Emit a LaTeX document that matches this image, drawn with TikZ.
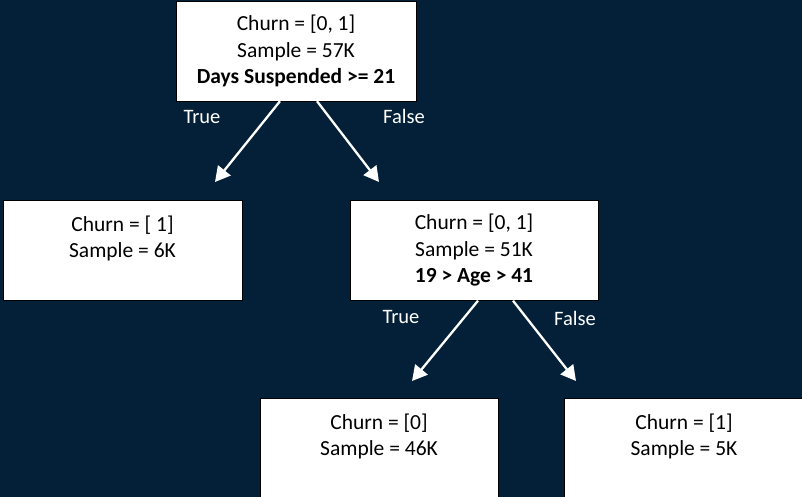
\documentclass[tikz,border=0pt]{standalone}
\usepackage{fontspec}
\setmainfont{Carlito}
\usetikzlibrary{arrows.meta}
\definecolor{navy}{RGB}{3,32,56}
\tikzset{
  treebox/.style={draw=black, fill=white, thin, minimum width=240pt, minimum height=100pt,
    align=center, font=\fontsize{21.5}{26.5}\selectfont, inner sep=0pt},
  branch/.style={draw=white, line width=2.3pt, -{Triangle[length=15pt,width=16pt]}},
  branchlabel/.style={text=white, font=\fontsize{20.5}{24}\selectfont, inner sep=0pt}}

\begin{document}
\begin{tikzpicture}[x=1pt,y=-1pt]
        \fill[navy] (0,0) rectangle (802,497);
        \useasboundingbox (0,0) rectangle (802,497);

        \node[treebox] (root) at (296,51) {Churn = [0, 1]\\Sample = 57K\\\textbf{Days Suspended >= 21}};
        \node[treebox, minimum width=239pt] (left) at (122.5,250) {Churn = [ 1]\\Sample = 6K\\~};
        \node[treebox, minimum width=248pt] (mid) at (474,250.5) {Churn = [0, 1]\\Sample = 51K\\\textbf{19 > Age > 41}};
        \node[treebox, minimum width=238pt] (midleft) at (379,448) {Churn = [0]\\Sample = 46K\\~};
        \node[treebox] (midright) at (684,448) {Churn = [1]\\Sample = 5K\\~};

        % arrow tips stop short of the child boxes
        \coordinate (rootT) at (215,182);
        \coordinate (rootF) at (379,182);
        \coordinate (midT) at (412,381);
        \coordinate (midF) at (576,381);

        \draw[branch] ([xshift=-16pt]root.south) -- (rootT);
        \draw[branch] ([xshift=21pt]root.south) -- (rootF);
        \draw[branch] ([xshift=4pt]mid.south) -- (midT);
        \draw[branch] ([xshift=39pt]mid.south) -- (midF);

        \node[branchlabel, anchor=base] (lblrootT) at (202,124) {True};
        \node[branchlabel, anchor=base] (lblrootF) at (404,124) {False};
        \node[branchlabel, anchor=base] (lblmidT) at (401,323) {True};
        \node[branchlabel, anchor=base] (lblmidF) at (575,325) {False};
\end{tikzpicture}
\end{document}
